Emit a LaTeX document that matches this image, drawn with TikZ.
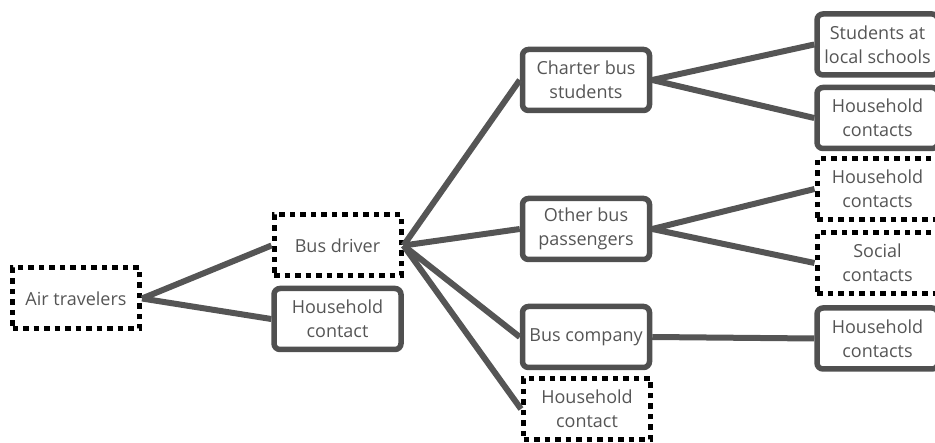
\documentclass[tikz,border=0pt]{standalone}
\usepackage{fontspec}
\setmainfont{Open Sans}
\definecolor{boxgray}{HTML}{505050}
\definecolor{txtgray}{HTML}{555555}
\definecolor{linegray}{HTML}{555555}
\begin{document}
\begin{tikzpicture}[x=1pt,y=-1pt,
  base/.style={minimum width=127pt, minimum height=61pt, inner sep=1pt, align=center,
    text=txtgray, font=\fontsize{18}{24}\selectfont},
  solidbox/.style={base, draw=boxgray, line width=5.5pt, rounded corners=6pt},
  dotbox/.style={base, draw=black, line width=5pt, dash pattern=on 5.5pt off 5pt},
  rightbox/.style={minimum width=121pt},
  conn/.style={draw=linegray, line width=6pt}]
\useasboundingbox (0,0) rectangle (935,443);
\begin{scope}
\clip (0,0) rectangle (935,443);
\node[dotbox] (air) at (76,298.5) {Air travelers};
\node[dotbox] (driver) at (337.5,245.5) {Bus driver};
\node[solidbox] (hc1) at (337.5,319) {Household\\contact};
\node[solidbox] (charter) at (586,80) {Charter bus\\students};
\node[solidbox] (other) at (586,229) {Other bus\\passengers};
\node[solidbox] (company) at (586,337) {Bus company};
\node[dotbox] (hc2) at (587,409) {Household\\contact};
\node[solidbox, rightbox] (stud) at (877.5,44.5) {Students at\\local schools};
\node[solidbox, rightbox] (hc3) at (877.5,118) {Household\\contacts};
\node[dotbox, rightbox] (hc4) at (877.5,189) {Household\\contacts};
\node[dotbox, rightbox] (social) at (877.5,263) {Social\\contacts};
\node[solidbox, rightbox] (hc5) at (877.5,338.5) {Household\\contacts};
\path[conn] (air.east) -- (driver.west);
\path[conn] (air.east) -- (hc1.west);
\path[conn] (driver.east) -- (charter.west);
\path[conn] (driver.east) -- (other.west);
\path[conn] (driver.east) -- (company.west);
\path[conn] (driver.east) -- (hc2.west);
\path[conn] (charter.east) -- (stud.west);
\path[conn] (charter.east) -- (hc3.west);
\path[conn] (other.east) -- (hc4.west);
\path[conn] (other.east) -- (social.west);
\path[conn] (company.east) -- (hc5.west);
\end{scope}
\end{tikzpicture}
\end{document}
